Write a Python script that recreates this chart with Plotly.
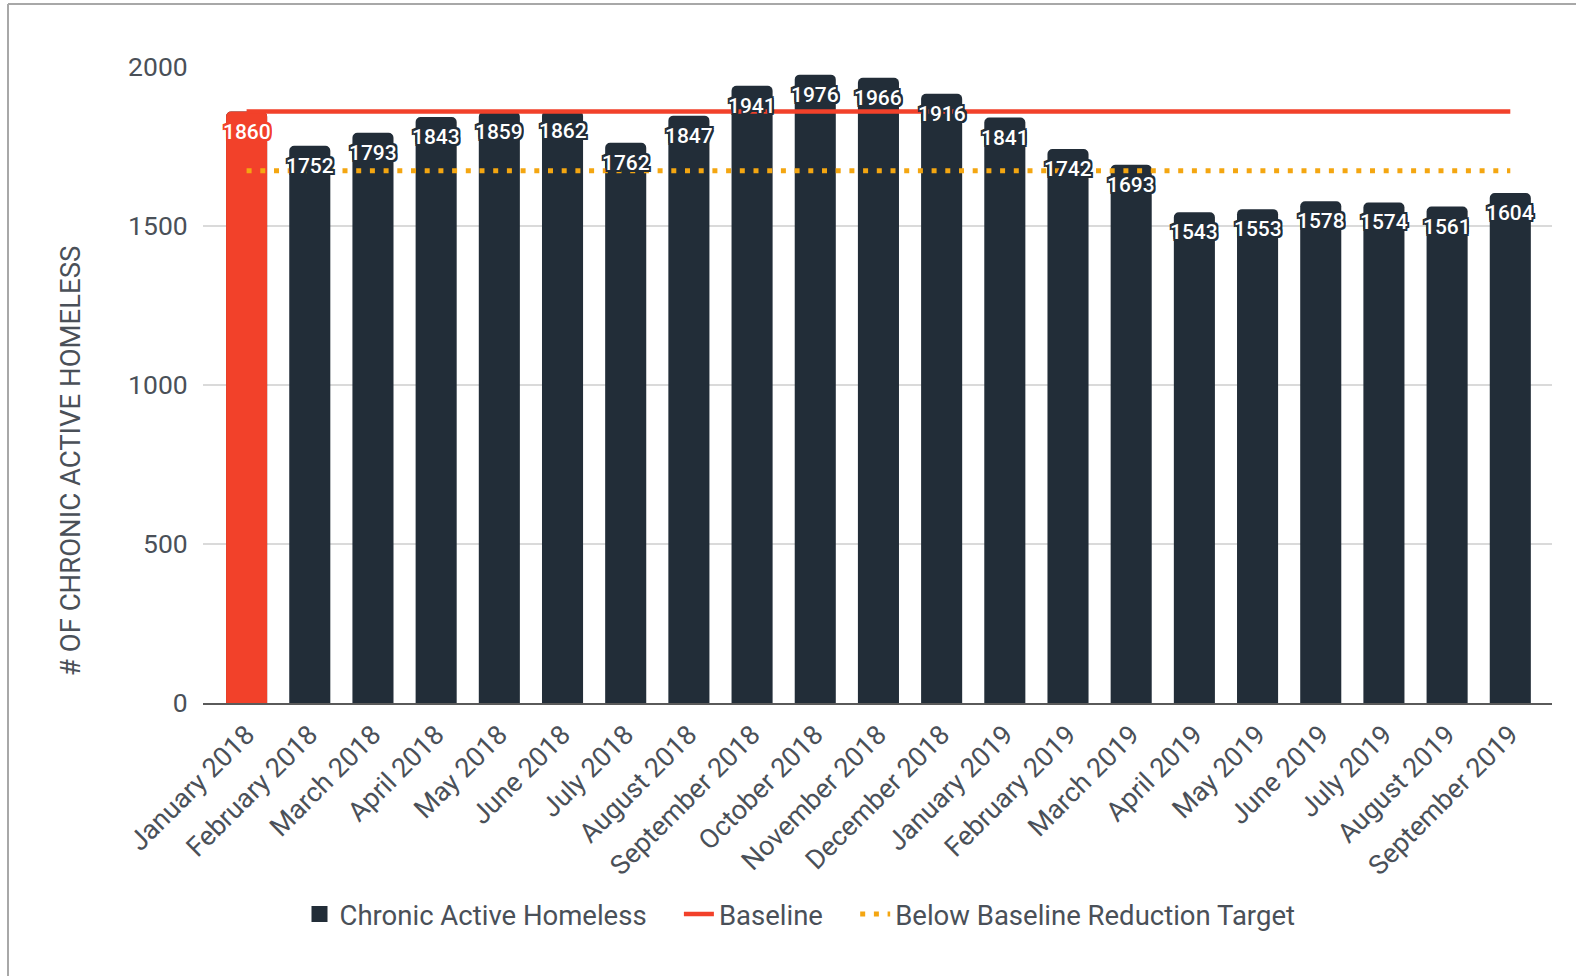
import plotly.graph_objects as go

months = ["January 2018", "February 2018", "March 2018", "April 2018", "May 2018",
          "June 2018", "July 2018", "August 2018", "September 2018", "October 2018",
          "November 2018", "December 2018", "January 2019", "February 2019", "March 2019",
          "April 2019", "May 2019", "June 2019", "July 2019", "August 2019", "September 2019"]
homeless = [1860, 1752, 1793, 1843, 1859, 1862, 1762, 1847, 1941, 1976, 1966,
            1916, 1841, 1742, 1693, 1543, 1553, 1578, 1574, 1561, 1604]
baseline_value = 1860
target_value = 1674
baseline = [baseline_value for _ in months]
target = [target_value for _ in months]
highlight_month = "January 2018"
y_title = "# OF CHRONIC ACTIVE HOMELESS"

DARK = "#222d38"
RED = "#f2412a"
ORANGE = "#f4a611"
TEXT = "#4a5058"


def halo(c, d=2.0):
    parts = []
    for dx, dy in [(-d, -d), (d, -d), (-d, d), (d, d), (0, d), (0, -d), (d, 0), (-d, 0)]:
        parts.append(f"{dx}px {dy}px 0.5px {c}")
    return ", ".join(parts)


hi_idx = months.index(highlight_month)
NB = "\u00a0"

fig = go.Figure()
# all months, dark
fig.add_trace(go.Bar(
    x=months, y=homeless, name="Chronic Active Homeless",
    marker=dict(color=DARK, cornerradius=5, line=dict(width=0)),
    showlegend=False,
))
# highlighted baseline month in red, overlaid
fig.add_trace(go.Bar(
    x=[months[hi_idx]], y=[homeless[hi_idx]], name="baseline month",
    marker=dict(color=RED, cornerradius=5, line=dict(width=0)),
    showlegend=False,
))
# legend proxy for the bars (bigger square swatch)
fig.add_trace(go.Scatter(
    x=[months[0]], y=[None], mode="markers", name="Chronic Active Homeless" + NB * 4,
    marker=dict(symbol="square", size=16, color=DARK), legendrank=1,
))
fig.add_trace(go.Scatter(
    x=months, y=baseline, name="Baseline" + NB * 4, mode="lines",
    line=dict(color=RED, width=4.5), legendrank=2,
))
fig.add_trace(go.Scatter(
    x=months, y=target, name="Below Baseline Reduction Target", mode="lines",
    line=dict(color=ORANGE, width=5, dash="5px,8.7px"), legendrank=3,
))

L, R, T, B = 203, 24, 67, 273
W, H = 1576, 976
pw, ph = W - L - R, H - T - B


def px_x(x):
    return (x - L) / pw


def px_y(y):
    return (H - B - y) / ph


annotations = []
for i, (m, v) in enumerate(zip(months, homeless)):
    c = RED if i == hi_idx else DARK
    annotations.append(dict(
        x=m, y=v, xref="x", yref="y", text=str(v), showarrow=False,
        yshift=-20, xanchor="center", yanchor="middle",
        font=dict(family="Roboto", size=21, color="white", weight=500, shadow=halo(c)),
    ))
annotations.append(dict(
    x=px_x(70), y=px_y(461), xref="paper", yref="paper", text=y_title, showarrow=False,
    textangle=-90, xanchor="center", yanchor="middle",
    font=dict(family="Roboto", size=27.5, color=TEXT),
))

fig.update_layout(
    width=W, height=H,
    margin=dict(l=L, r=R, t=T, b=B, autoexpand=False),
    paper_bgcolor="white", plot_bgcolor="white",
    font=dict(family="Roboto", color=TEXT),
    barmode="overlay",
    bargap=0.35,
    xaxis=dict(
        type="category", categoryorder="array", categoryarray=months,
        range=[-0.69, 20.66], tickangle=-45,
        tickfont=dict(size=27, color=TEXT),
        showgrid=False, showline=True, linecolor="#5a5a5a", linewidth=2,
        ticks="", automargin=False, ticklabelstandoff=3,
    ),
    yaxis=dict(
        range=[0, 2000], dtick=500, tickfont=dict(size=26.5, color=TEXT),
        showgrid=True, gridcolor="#dadada", gridwidth=2, zeroline=False,
        ticks="outside", ticklen=9, tickcolor="rgba(0,0,0,0)",
        automargin=False,
    ),
    legend=dict(
        orientation="h", x=px_x(800), xanchor="center", y=px_y(914), yanchor="middle",
        font=dict(size=27.5, color=TEXT), itemwidth=30, traceorder="normal",
    ),
    annotations=annotations,
    shapes=[
        dict(type="line", xref="paper", yref="paper", x0=px_x(8), x1=px_x(W), y0=px_y(4), y1=px_y(4),
             line=dict(color="#a8a8a8", width=2)),
        dict(type="line", xref="paper", yref="paper", x0=px_x(8), x1=px_x(8), y0=px_y(4), y1=px_y(H),
             line=dict(color="#a8a8a8", width=2)),
    ],
)

fig.write_html("out.html", config={"displayModeBar": False},
               post_script="document.body.style.margin='0';document.body.style.overflow='hidden';")
